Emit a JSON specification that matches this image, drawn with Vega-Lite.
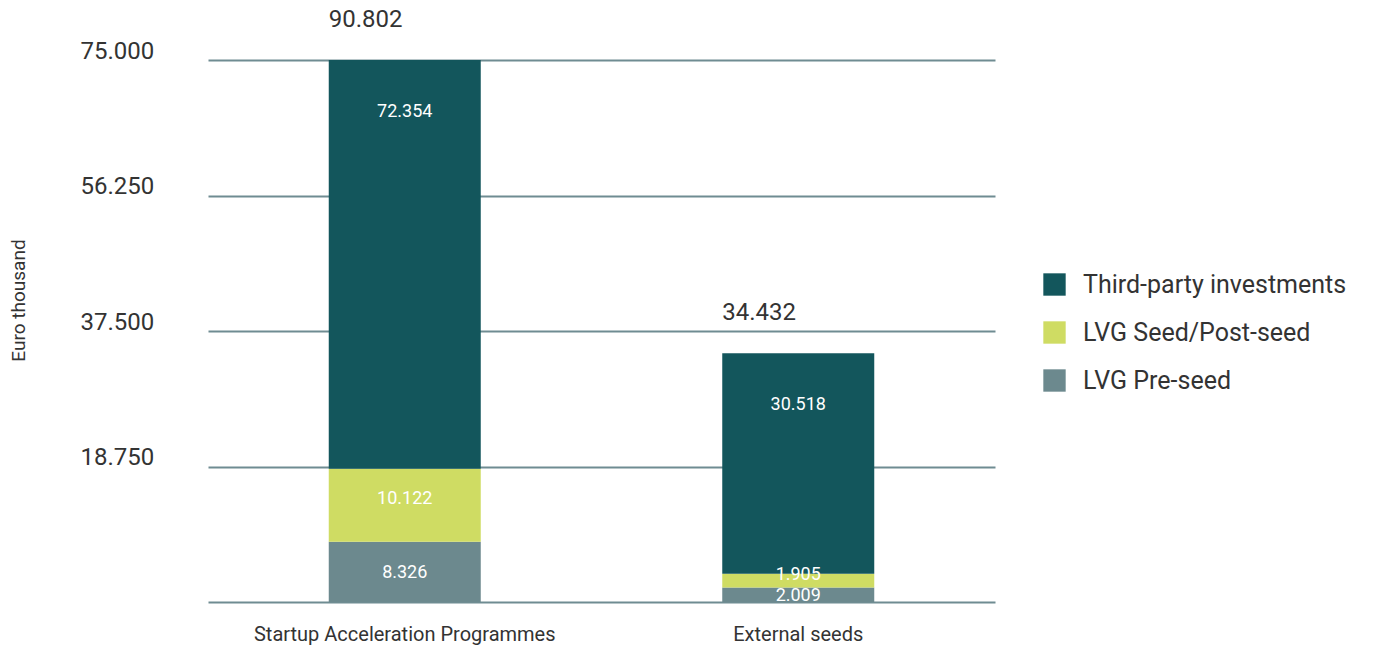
{
  "$schema": "https://vega.github.io/schema/vega-lite/v6.json",
  "width": 787,
  "height": 542,
  "autosize": {"type": "none"},
  "padding": {"left": 208, "top": 60, "right": 383, "bottom": 44},
  "background": "white",
  "config": {
    "locale": {"number": {"decimal": ",", "thousands": ".", "grouping": [3], "currency": ["€", ""]}},
    "font": "Roboto",
    "view": {"stroke": null}
  },
  "data": {
    "values": [
      {"programme": "Startup Acceleration Programmes", "source": "LVG Pre-seed", "order": 1, "value": 8326},
      {"programme": "Startup Acceleration Programmes", "source": "LVG Seed/Post-seed", "order": 2, "value": 10122},
      {"programme": "Startup Acceleration Programmes", "source": "Third-party investments", "order": 3, "value": 72354},
      {"programme": "External seeds", "source": "LVG Pre-seed", "order": 1, "value": 2009},
      {"programme": "External seeds", "source": "LVG Seed/Post-seed", "order": 2, "value": 1905},
      {"programme": "External seeds", "source": "Third-party investments", "order": 3, "value": 30518}
    ]
  },
  "transform": [
    {"stack": "value", "groupby": ["programme"], "sort": [{"field": "order"}], "as": ["v0", "v1"]}
  ],
  "encoding": {
    "x": {
      "field": "programme",
      "type": "nominal",
      "sort": ["Startup Acceleration Programmes", "External seeds"],
      "scale": {"paddingInner": 0, "paddingOuter": 0},
      "axis": {
        "title": null,
        "domain": false,
        "ticks": false,
        "labelAngle": 0,
        "labelFontSize": 20,
        "labelFontWeight": "normal",
        "labelColor": "#333333",
        "labelPadding": 22,
        "labelLimit": 500
      }
    }
  },
  "layer": [
    {
      "mark": {"type": "bar", "width": 152},
      "encoding": {
        "y": {
          "field": "v1",
          "type": "quantitative",
          "scale": {"domain": [0, 75000], "clamp": true, "nice": false},
          "axis": {
            "title": "Euro thousand",
            "titleFontSize": 19,
            "titleFontWeight": "normal",
            "titleColor": "#333333",
            "titleAngle": -90,
            "titleX": -190,
            "titleY": 240,
            "titleAlign": "center",
            "titleBaseline": "middle",
            "values": [0, 18750, 37500, 56250, 75000],
            "format": ",d",
            "labelExpr": "datum.value === 0 ? '' : datum.label",
            "labelFontSize": 24,
            "labelFontWeight": "normal",
            "labelColor": "#333333",
            "labelAlign": "left",
            "labelBaseline": "middle",
            "labelOffset": -9,
            "labelPadding": 128,
            "ticks": false,
            "tickSize": 0,
            "domain": false,
            "grid": true,
            "gridColor": "#6f8c92",
            "gridWidth": 2
          }
        },
        "y2": {"field": "v0"},
        "color": {
          "field": "source",
          "type": "nominal",
          "scale": {
            "domain": ["Third-party investments", "LVG Seed/Post-seed", "LVG Pre-seed"],
            "range": ["#13565c", "#cfdc63", "#6c898e"]
          },
          "legend": {
            "title": null,
            "orient": "none",
            "legendX": 834,
            "legendY": 212,
            "symbolType": "square",
            "symbolSize": 500,
            "symbolStrokeWidth": 0,
            "symbolOpacity": 1,
            "labelFontSize": 25,
            "labelFontWeight": "normal",
            "labelColor": "#333333",
            "labelOffset": 16,
            "rowPadding": 22,
            "labelLimit": 400
          }
        }
      }
    },
    {
      "transform": [
        {"filter": "datum.source === 'LVG Pre-seed'"},
        {"fold": ["v0", "v1"], "as": ["edge", "edgeValue"]}
      ],
      "mark": {"type": "text", "color": "white", "fontSize": 18, "fontWeight": "normal", "baseline": "middle", "dy": 1},
      "encoding": {
        "y": {"aggregate": "mean", "field": "edgeValue", "type": "quantitative"},
        "text": {"aggregate": "max", "field": "value", "type": "quantitative", "format": ",d"}
      }
    },
    {
      "transform": [
        {"filter": "datum.source === 'LVG Seed/Post-seed'"},
        {"fold": ["v0", "v1"], "as": ["edge", "edgeValue"]}
      ],
      "mark": {"type": "text", "color": "white", "fontSize": 18, "fontWeight": "normal", "baseline": "middle", "dy": -6},
      "encoding": {
        "y": {"aggregate": "mean", "field": "edgeValue", "type": "quantitative"},
        "text": {"aggregate": "max", "field": "value", "type": "quantitative", "format": ",d"}
      }
    },
    {
      "transform": [{"filter": "datum.source === 'Third-party investments'"}],
      "mark": {"type": "text", "color": "white", "fontSize": 18, "fontWeight": "normal", "baseline": "middle", "dy": 52},
      "encoding": {
        "y": {"field": "v1", "type": "quantitative"},
        "text": {"field": "value", "type": "quantitative", "format": ",d"}
      }
    },
    {
      "mark": {"type": "text", "color": "#333333", "fontSize": 24, "fontWeight": "normal", "align": "left", "baseline": "middle", "dx": -76, "dy": -40},
      "encoding": {
        "y": {"aggregate": "sum", "field": "value", "type": "quantitative"},
        "text": {"aggregate": "sum", "field": "value", "type": "quantitative", "format": ",d"}
      }
    }
  ]
}
